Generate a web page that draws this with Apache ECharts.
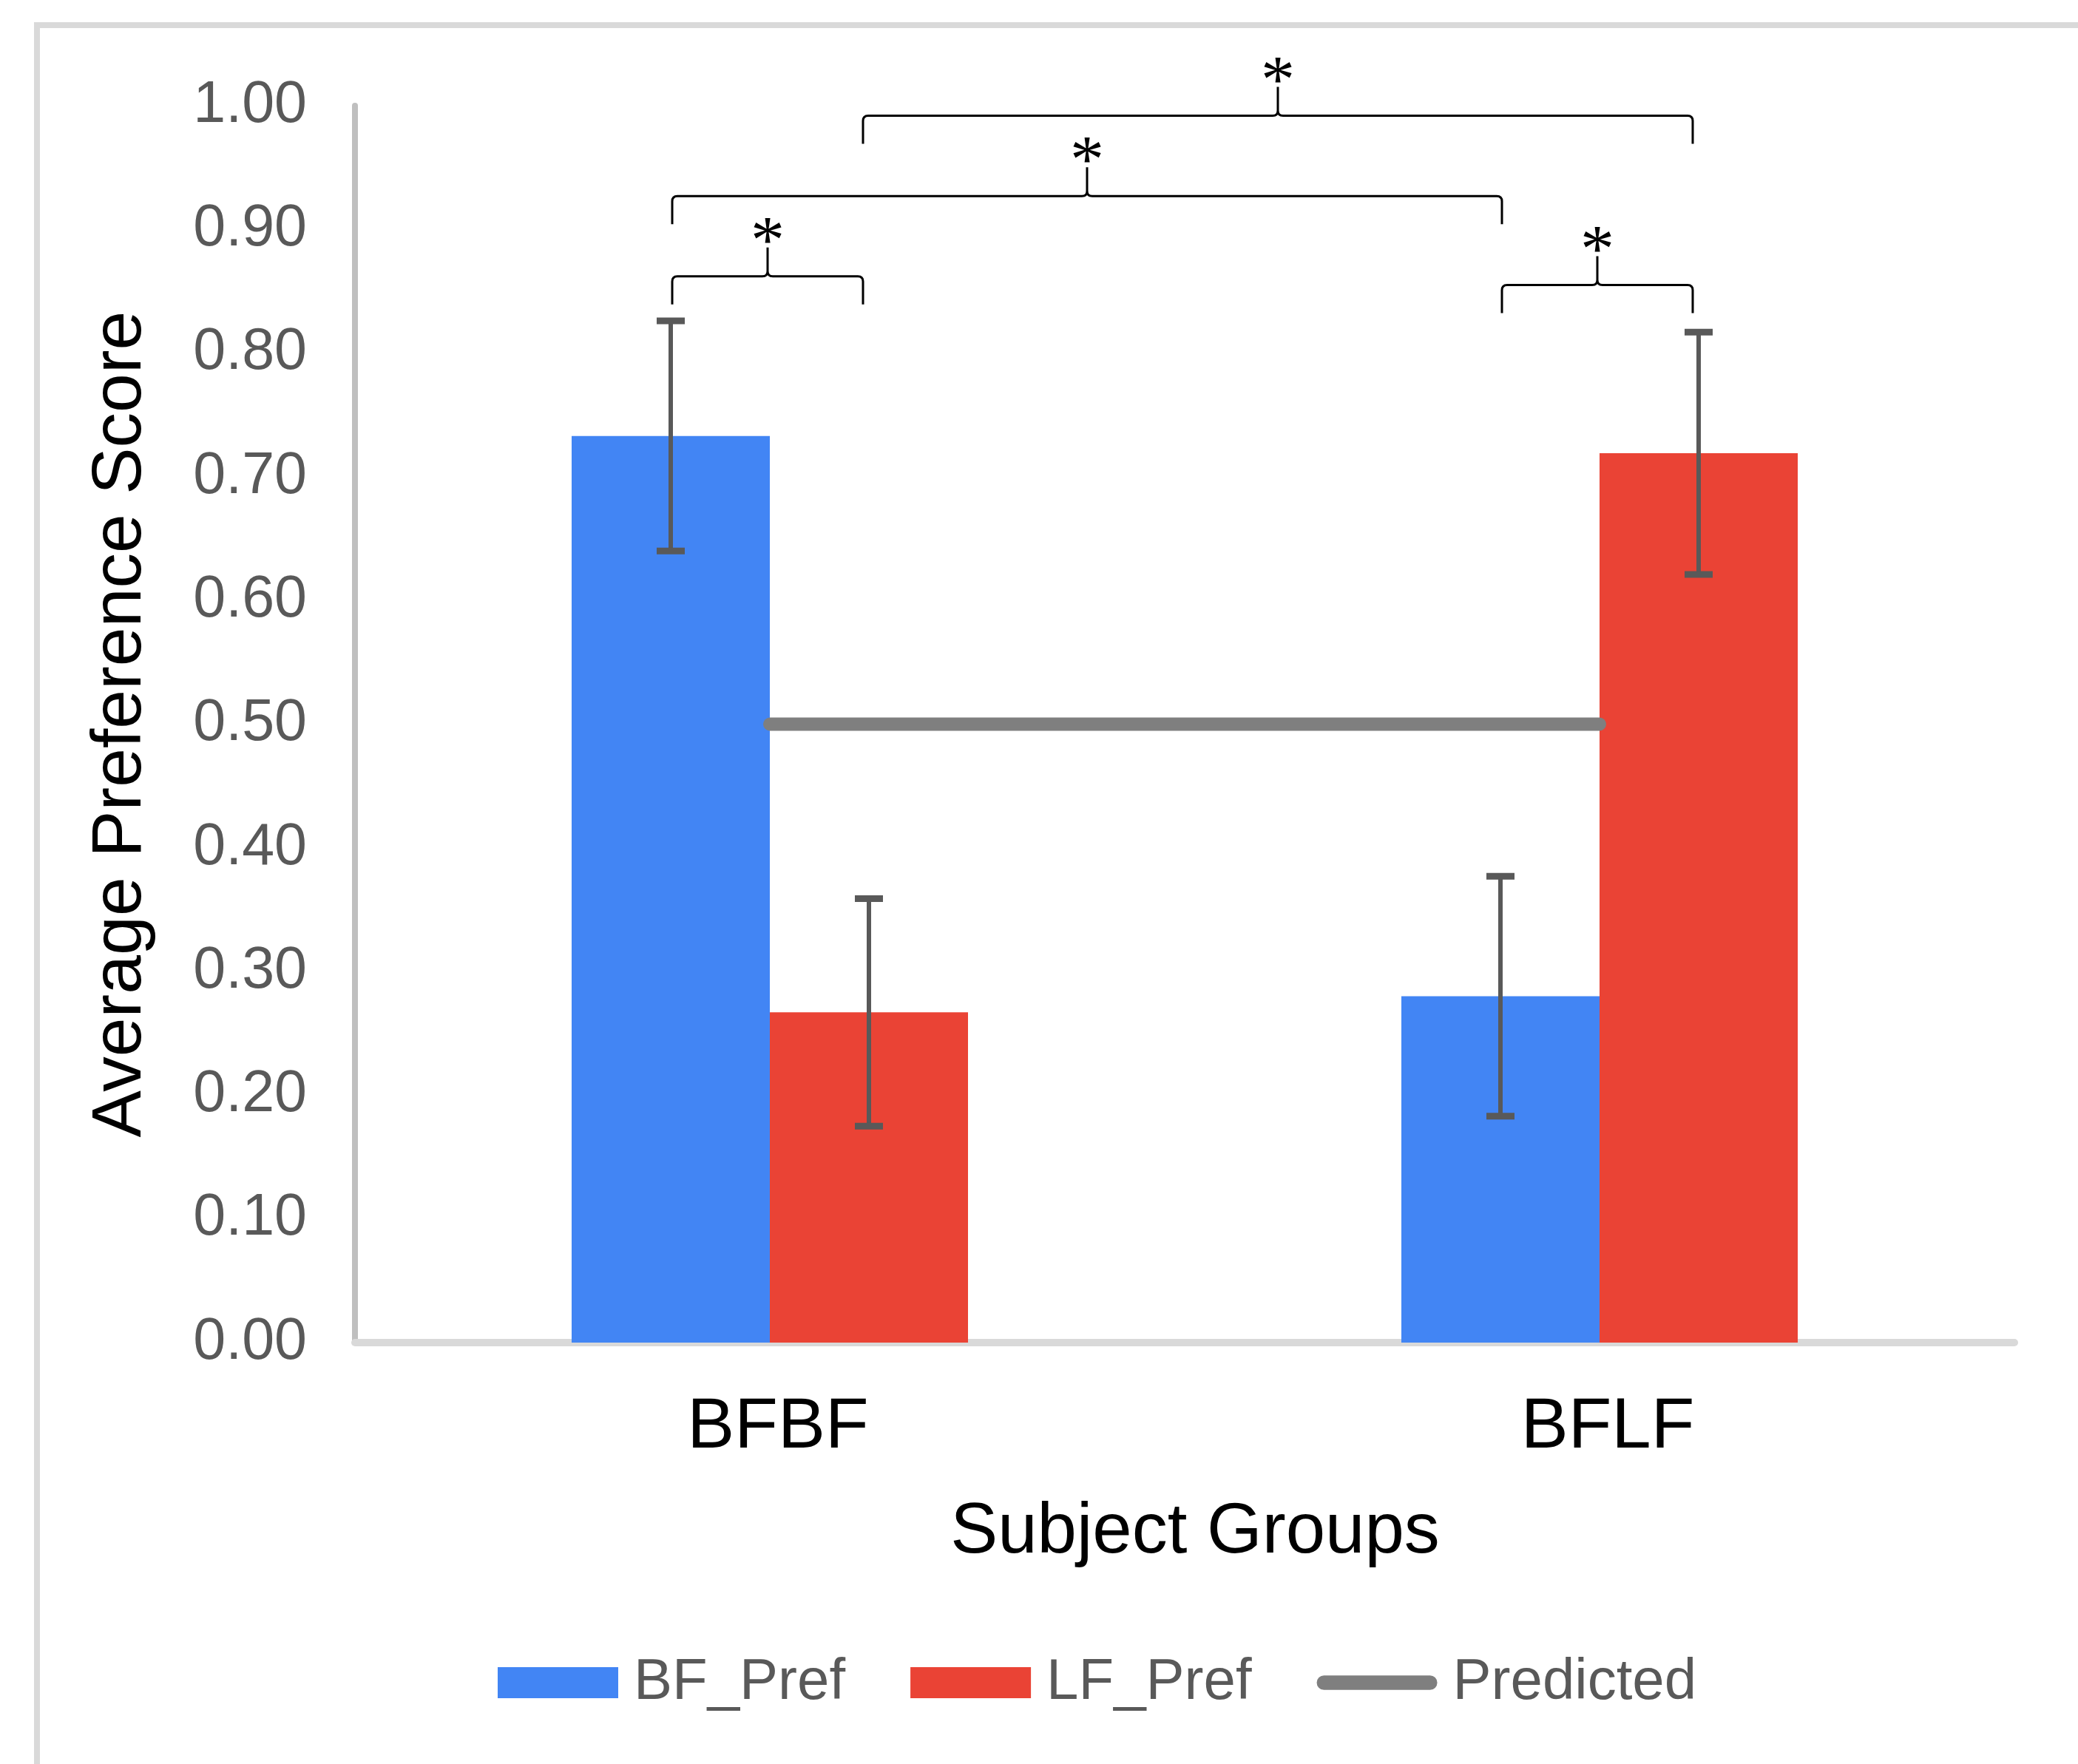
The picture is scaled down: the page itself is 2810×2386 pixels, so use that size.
<!DOCTYPE html>
<html><head><meta charset="utf-8">
<script src="https://cdn.jsdelivr.net/npm/echarts@6/dist/echarts.min.js"></script>
<style>html,body{margin:0;padding:0;background:#fff}#c{width:2810px;height:2386px}</style>
</head><body><div id="c"></div>
<script>
// ---- data ----
const categories = ['BFBF', 'BFLF'];
const seriesNames = ['BF_Pref', 'LF_Pref', 'Predicted'];
const bfPref = [0.733, 0.280];
const lfPref = [0.267, 0.719];
const bfErr = [0.093, 0.097];
const lfErr = [0.092, 0.098];
const predicted = [0.5, 0.5];
const yMin = 0, yMax = 1, yStep = 0.1;
// significance brackets: [fromCategory, fromSeries(0=BF,1=LF), toCategory, toSeries, height, label]
const brackets = [
  [0, 0, 0, 1, 0.862, '*'],
  [0, 0, 1, 0, 0.927, '*'],
  [0, 1, 1, 1, 0.992, '*'],
  [1, 0, 1, 1, 0.855, '*']
];

// ---- styles ----
const BAR_W = 268;
const BLUE = '#4285f4', RED = '#ea4335', GRAY = '#7f7f7f', ERR = '#595959';
const NARROW = '"Liberation Sans Narrow", "Arial Narrow", "Liberation Sans", Arial, sans-serif';
const SANS = '"Liberation Sans", Arial, Helvetica, sans-serif';
const SERIF = '"Liberation Serif", "Times New Roman", serif';

function errRender(side) {
  return function (params, api) {
    const c = api.value(0), v = api.value(1), e = api.value(2);
    const x = api.coord([c, v])[0] + side * BAR_W / 2;
    const top = api.coord([c, v + e])[1];
    const bot = api.coord([c, v - e])[1];
    const cw = 19;
    const st = { stroke: ERR, lineWidth: 6 };
    const cs = { stroke: ERR, lineWidth: 9 };
    return { type: 'group', children: [
      { type: 'line', shape: { x1: x, y1: top, x2: x, y2: bot }, style: st },
      { type: 'line', shape: { x1: x - cw, y1: top, x2: x + cw, y2: top }, style: cs },
      { type: 'line', shape: { x1: x - cw, y1: bot, x2: x + cw, y2: bot }, style: cs }
    ]};
  };
}

function bracketRender(params, api) {
  const c1 = api.value(0), s1 = api.value(1), c2 = api.value(2), s2 = api.value(3), yv = api.value(4);
  const p1 = api.coord([c1, yv]), p2 = api.coord([c2, yv]);
  const L = p1[0] + (s1 === 0 ? -1 : 1) * BAR_W / 2 + (s1 === 1 ? -8 : 2);
  const R = p2[0] + (s2 === 0 ? -1 : 1) * BAR_W / 2 + (s2 === 1 ? -8 : 2);
  const Y = p1[1];
  const M = (L + R) / 2;
  const h = 38, r = 7, n = 39;
  const d = `M${L},${Y + h} L${L},${Y + r} Q${L},${Y} ${L + r},${Y} L${M - r},${Y} Q${M},${Y} ${M},${Y - r} L${M},${Y - n} ` +
            `M${M},${Y - r} Q${M},${Y} ${M + r},${Y} L${R - r},${Y} Q${R},${Y} ${R},${Y + r} L${R},${Y + h}`;
  return { type: 'group', children: [
    { type: 'path', shape: { pathData: d }, style: { stroke: '#000', lineWidth: 3, fill: null } },
    { type: 'text', style: { text: brackets[params.dataIndex][5], x: M, y: Y - 43, align: 'center', verticalAlign: 'middle',
      font: '92px ' + SERIF, fill: '#000' } }
  ]};
}

const chart = echarts.init(document.getElementById('c'), null, { renderer: 'canvas' });
chart.setOption({
  backgroundColor: '#ffffff',
  animation: false,
  graphic: [{
    type: 'rect', shape: { x: 50, y: 34, width: 2900, height: 2500 },
    style: { fill: null, stroke: '#d9d9d9', lineWidth: 8 }, silent: true, z: -10
  }],
  grid: { left: 480, right: 86, top: 143, bottom: 570, containLabel: false },
  legend: {
    left: 668, top: 2232, itemWidth: 163, itemHeight: 42, itemGap: 88,
    textStyle: { fontSize: 78, fontFamily: NARROW, color: '#595959', padding: [0, 0, 0, 16] },
    data: [
      { name: 'BF_Pref', icon: 'rect' },
      { name: 'LF_Pref', icon: 'rect' },
      { name: 'Predicted', icon: 'path://M6,0 L94,0 A6,6 0 0 1 94,12 L6,12 A6,6 0 0 1 6,0 Z', itemStyle: { color: GRAY } }
    ]
  },
  xAxis: {
    type: 'category', data: categories,
    name: 'Subject Groups', nameLocation: 'middle', nameGap: 210,
    nameTextStyle: { fontSize: 96, fontFamily: SANS, color: '#000', padding: [0, 0, 0, 28] },
    axisLine: { show: true, lineStyle: { color: '#d9d9d9', width: 10 } },
    axisTick: { show: false },
    axisLabel: { fontSize: 96, fontFamily: SANS, color: '#000', margin: 68, padding: [0, 0, 0, 22] },
    splitLine: { show: false }
  },
  yAxis: {
    type: 'value', min: yMin, max: yMax, interval: yStep,
    name: 'Average Preference Score', nameLocation: 'middle', nameGap: 269, nameRotate: 90,
    nameTextStyle: { fontSize: 95, fontFamily: SANS, color: '#000' },
    axisLine: { show: true, lineStyle: { color: '#bfbfbf', width: 8 } },
    axisTick: { show: false },
    splitLine: { show: false },
    axisLabel: { fontSize: 79, fontFamily: NARROW, color: '#595959', margin: 65,
      formatter: v => v.toFixed(2) }
  },
  series: [
    { name: seriesNames[0], type: 'bar', data: bfPref, barWidth: BAR_W, barGap: '0%', itemStyle: { color: BLUE }, z: 2 },
    { name: seriesNames[1], type: 'bar', data: lfPref, barWidth: BAR_W, barGap: '0%', itemStyle: { color: RED }, z: 2 },
    { name: seriesNames[2], type: 'line', data: predicted, showSymbol: false, symbol: 'none',
      lineStyle: { color: GRAY, width: 18, cap: 'round' }, itemStyle: { color: GRAY }, z: 3 },
    { type: 'custom', name: 'err_bf', renderItem: errRender(-1), encode: { x: 0, y: 1 },
      data: categories.map((c, i) => [i, bfPref[i], bfErr[i]]), z: 4, clip: false },
    { type: 'custom', name: 'err_lf', renderItem: errRender(1), encode: { x: 0, y: 1 },
      data: categories.map((c, i) => [i, lfPref[i], lfErr[i]]), z: 4, clip: false },
    { type: 'custom', name: 'sig', renderItem: bracketRender, encode: { x: 0, y: 4 },
      data: brackets.map(b => b.slice(0, 5)), z: 5, clip: false }
  ]
});
</script>
</body></html>
